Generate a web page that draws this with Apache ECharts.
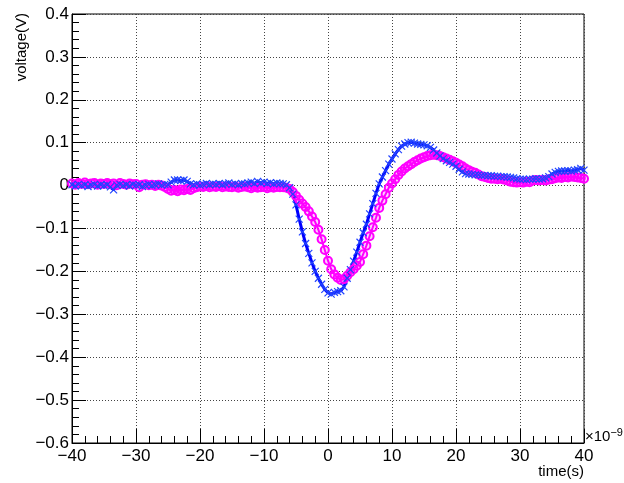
<!DOCTYPE html>
<html>
<head>
<meta charset="utf-8">
<script src="https://cdn.jsdelivr.net/npm/echarts@6/dist/echarts.min.js"></script>
<style>
  html, body { margin: 0; padding: 0; background: #fff; }
  #chart { width: 624px; height: 483px; }
</style>
</head>
<body>
<div id="chart"></div>
<script>
// sample times: -40 ns .. 40 ns, 0.5 ns apart
const tStart = -40;
const tStep = 0.5;

// blue trace (x markers), volts
const blueVolts = [
  0.002,-0.001,0.003,0.000,0.002,-0.002,0.001,0.003,-0.001,0.002,
  0.000,0.002,-0.003,-0.010,0.001,0.003,0.000,0.002,-0.001,0.003,
  0.001,0.002,-0.002,0.001,0.003,0.000,0.002,0.004,0.001,0.003,
  0.002,0.008,0.013,0.013,0.012,0.013,0.010,0.004,0.002,0.004,
  0.001,0.003,0.005,0.002,0.004,0.003,0.005,0.002,0.004,0.006,
  0.003,0.004,0.002,0.005,0.004,0.006,0.008,0.005,0.010,0.006,
  0.008,0.005,0.007,0.004,0.006,0.005,0.004,0.002,-0.005,-0.020,
  -0.045,-0.078,-0.108,-0.135,-0.158,-0.180,-0.200,-0.216,-0.230,-0.242,
  -0.250,-0.253,-0.249,-0.247,-0.245,-0.236,-0.216,-0.196,-0.176,-0.155,
  -0.132,-0.110,-0.090,-0.066,-0.042,-0.018,0.004,0.020,0.035,0.050,
  0.062,0.074,0.084,0.092,0.097,0.100,0.101,0.099,0.097,0.096,
  0.095,0.093,0.089,0.083,0.076,0.069,0.063,0.058,0.054,0.050,
  0.045,0.038,0.032,0.028,0.027,0.026,0.025,0.025,0.024,0.024,
  0.023,0.023,0.022,0.022,0.021,0.021,0.020,0.019,0.018,0.016,
  0.015,0.015,0.014,0.015,0.015,0.016,0.015,0.016,0.018,0.021,
  0.027,0.031,0.033,0.034,0.034,0.035,0.034,0.036,0.037,0.040,
  0.036
];

// magenta trace (circles), volts
const magentaVolts = [
  0.005,0.002,0.006,0.004,0.007,0.003,0.005,0.006,0.002,0.005,
  0.004,0.006,0.003,0.005,0.001,0.006,0.004,0.002,0.005,0.003,
  0.004,-0.004,0.002,0.003,0.001,0.002,-0.001,0.002,0.000,-0.003,
  -0.008,-0.012,-0.010,-0.013,-0.009,-0.011,-0.008,-0.010,-0.006,-0.004,
  -0.002,-0.003,-0.001,-0.004,-0.002,-0.003,-0.001,-0.004,-0.002,-0.003,
  -0.004,-0.002,-0.005,-0.003,-0.002,-0.004,-0.006,-0.003,-0.005,-0.004,
  -0.003,-0.006,-0.004,-0.005,-0.003,-0.004,-0.004,-0.005,-0.008,-0.015,
  -0.024,-0.033,-0.042,-0.050,-0.060,-0.072,-0.085,-0.103,-0.125,-0.150,
  -0.175,-0.195,-0.207,-0.215,-0.220,-0.218,-0.210,-0.202,-0.195,-0.187,
  -0.178,-0.160,-0.140,-0.118,-0.097,-0.075,-0.052,-0.035,-0.020,-0.005,
  0.005,0.015,0.025,0.033,0.040,0.045,0.050,0.055,0.059,0.063,
  0.066,0.069,0.071,0.072,0.071,0.069,0.066,0.063,0.060,0.057,
  0.053,0.049,0.045,0.040,0.036,0.032,0.030,0.026,0.022,0.020,
  0.018,0.016,0.016,0.015,0.016,0.014,0.012,0.009,0.008,0.007,
  0.008,0.007,0.009,0.008,0.012,0.013,0.012,0.013,0.012,0.014,
  0.015,0.017,0.019,0.018,0.020,0.019,0.021,0.020,0.019,0.018,
  0.016
];

const font = '"Liberation Sans", Arial, sans-serif';

function toPairs(vals) {
  return vals.map((v, i) => [tStart + i * tStep, v]);
}

// ROOT style minus sign
function fmt(v) {
  let s = String(Math.round(v * 10) / 10);
  return s.replace('-', '\u2212');
}

let myChart = echarts.init(document.getElementById('chart'), null, {renderer: 'canvas'});

let option = {
  animation: false,
  backgroundColor: '#fff',
  grid: {
    left: 72, right: 40, top: 14, bottom: 40,
    show: true, borderColor: '#000', borderWidth: 1
  },
  xAxis: {
    type: 'value', min: -40, max: 40, interval: 10,
    axisLine: {onZero: false, lineStyle: {color: '#000', width: 1}},
    axisTick: {inside: true, length: 14, lineStyle: {color: '#000'}},
    minorTick: {show: true, splitNumber: 5, length: 7, lineStyle: {color: '#000'}},
    splitLine: {show: true, lineStyle: {color: '#444', width: 1, type: [1, 2]}},
    axisLabel: {color: '#000', fontFamily: font, fontSize: 17, margin: 5, formatter: fmt}
  },
  yAxis: {
    type: 'value', min: -0.6, max: 0.4, interval: 0.1,
    axisLine: {onZero: false, lineStyle: {color: '#000', width: 1}},
    axisTick: {inside: true, length: 14, lineStyle: {color: '#000'}},
    minorTick: {show: true, splitNumber: 5, length: 7, lineStyle: {color: '#000'}},
    splitLine: {show: true, lineStyle: {color: '#444', width: 1, type: [1, 2]}},
    axisLabel: {color: '#000', fontFamily: font, fontSize: 17, margin: 3, formatter: fmt}
  },
  series: [
    {
      name: 'magenta',
      type: 'line',
      data: toPairs(magentaVolts),
      symbol: 'circle',
      symbolSize: 8,
      showAllSymbol: true,
      lineStyle: {color: '#ff00ff', width: 2},
      itemStyle: {color: 'rgba(255,0,255,0.2)', borderColor: '#ff00ff', borderWidth: 2}
    },
    {
      name: 'blue',
      type: 'line',
      data: toPairs(blueVolts),
      symbol: 'path://M0,0L10,10M10,0L0,10',
      symbolSize: 7,
      showAllSymbol: true,
      lineStyle: {color: '#0000ff', width: 3},
      itemStyle: {color: 'none', borderColor: '#2244ff', borderWidth: 1.2}
    }
  ],
  graphic: [
    {
      type: 'text', left: 585, top: 427,
      style: {
        text: '{a|\u00d710}{b|\u22129}',
        rich: {
          a: {fontFamily: font, fontSize: 15, fill: '#000', verticalAlign: 'bottom'},
          b: {fontFamily: font, fontSize: 11, fill: '#000', verticalAlign: 'top', padding: [0, 0, 6, 0]}
        }
      }
    },
    {
      type: 'text', right: 40, top: 464,
      style: {text: 'time(s)', fontFamily: font, fontSize: 15, fill: '#000'}
    },
    {
      type: 'text', x: 22, y: 13, rotation: Math.PI / 2,
      style: {text: 'voltage(V)', fontFamily: font, fontSize: 15, fill: '#000',
              textAlign: 'right', textVerticalAlign: 'middle'}
    }
  ]
};

myChart.setOption(option);
</script>
</body>
</html>
